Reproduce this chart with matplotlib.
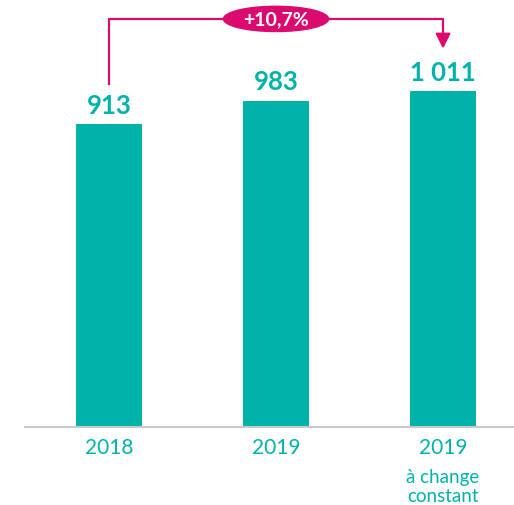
import matplotlib.pyplot as plt
from matplotlib.patches import Ellipse

# chart data
years = ["2018", "2019", "2019"]
sublabels = ["", "", "à change\nconstant"]
values = [913, 983, 1011]
value_labels = ["913", "983", "1 011"]

teal = "#00B2A9"
magenta = "#DB0A6E"

plt.rcParams['font.family'] = ['Lato', 'DejaVu Sans']

fig = plt.figure(figsize=(5.14, 5.06), dpi=100)
ax = fig.add_axes([25 / 514, 78 / 506, 489 / 514, 428 / 506])

x = list(range(len(values)))
ax.bar(x, values, width=0.40, color=teal)

for xi, v, lab in zip(x, values, value_labels):
    ax.text(xi, v + 22, lab, ha="center", va="bottom", fontsize=18.5,
            fontweight="bold", color=teal)

ax.set_xlim(-0.503, 2.425)
ax.set_ylim(0, 1289)

# x axis
ax.set_xticks(x)
ax.set_xticklabels(years, fontsize=15, color=teal)
ax.tick_params(axis="x", length=0, pad=7)
ax.set_yticks([])
for s in ["top", "right", "left"]:
    ax.spines[s].set_visible(False)
ax.spines["bottom"].set_color("#C9C9C9")
ax.spines["bottom"].set_linewidth(1.5)

for xi, sub in zip(x, sublabels):
    if sub:
        ax.text(xi, -124, sub, ha="center", va="top", fontsize=13.5,
                color=teal, linespacing=1.15)

# growth bracket
top = 1229
ax.plot([0, 0, 2, 2], [values[0] + 120, top, top, values[2] + 172],
        color=magenta, lw=1.6, solid_joinstyle="miter", clip_on=False)
ax.annotate("", xy=(2, values[2] + 120), xytext=(2, values[2] + 175),
            arrowprops=dict(arrowstyle="-|>,head_length=0.9,head_width=0.45",
                            color=magenta, lw=1.6), annotation_clip=False)
ax.add_patch(Ellipse((1, top), 0.63, 76, color=magenta, clip_on=False, zorder=3))
growth = (values[2] / values[0] - 1) * 100
ax.text(1, top, f"+{growth:.1f}%".replace(".", ","), ha="center", va="center",
        fontsize=14, fontweight="bold", color="white", zorder=4)

plt.savefig("out.png", dpi=100)
